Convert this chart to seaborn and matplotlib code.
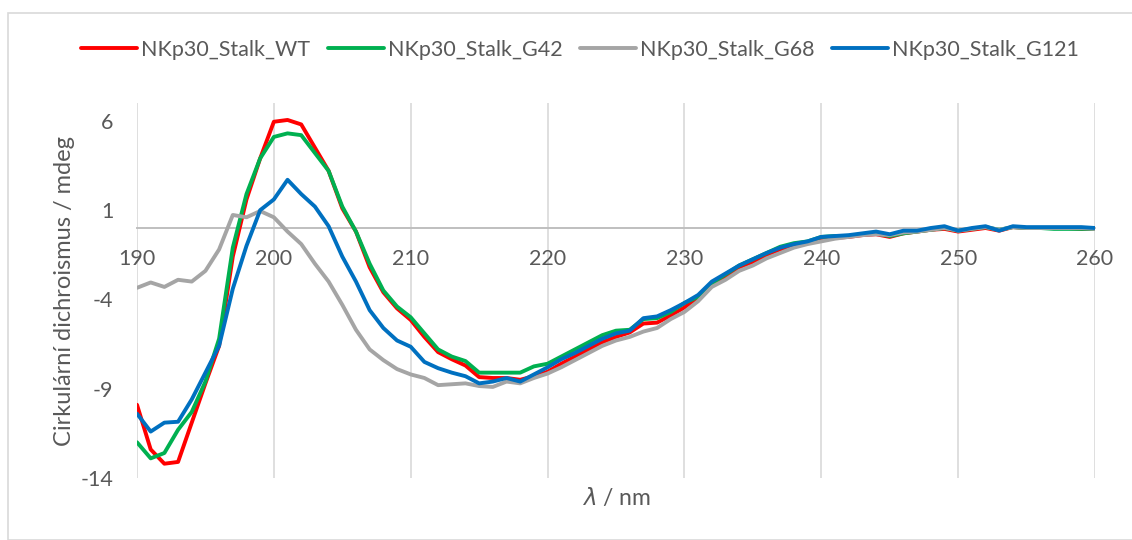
import matplotlib
matplotlib.use("Agg")
import matplotlib.pyplot as plt
import numpy as np
import pandas as pd
import seaborn as sns
from matplotlib.patches import Rectangle

# wavelength in nm, CD signal in mdeg
wavelength = list(range(190, 261))

wt = [-9.9, -12.4, -13.2, -13.1, -10.9, -8.7, -6.6, -1.6, 1.6, 3.9,
      5.95, 6.05, 5.8, 4.5, 3.2, 1.1, -0.2, -2.2, -3.6, -4.5,
      -5.15, -6.1, -6.95, -7.35, -7.7, -8.35, -8.4, -8.4, -8.5, -8.3,
      -8.05, -7.6, -7.2, -6.8, -6.4, -6.1, -5.85, -5.35, -5.3, -4.9,
      -4.45, -3.9, -3.1, -2.7, -2.2, -1.9, -1.5, -1.2, -0.95, -0.8,
      -0.6, -0.55, -0.5, -0.4, -0.35, -0.5, -0.3, -0.2, -0.1, -0.05,
      -0.2, -0.1, 0.0, -0.15, 0.05, 0.0, 0.0, 0.0, 0.0, -0.05, -0.05]

g42 = [-12.0, -12.9, -12.6, -11.3, -10.3, -8.6, -6.2, -1.1, 1.9, 3.9,
       5.1, 5.3, 5.2, 4.2, 3.2, 1.2, -0.2, -2.0, -3.5, -4.4,
       -5.0, -5.9, -6.8, -7.2, -7.45, -8.1, -8.1, -8.1, -8.1, -7.75,
       -7.6, -7.2, -6.8, -6.4, -6.0, -5.75, -5.7, -5.1, -5.05, -4.7,
       -4.2, -3.85, -3.1, -2.6, -2.1, -1.75, -1.4, -1.05, -0.85, -0.75,
       -0.5, -0.45, -0.45, -0.35, -0.3, -0.45, -0.3, -0.2, -0.1, 0.0,
       -0.15, -0.05, 0.05, -0.1, 0.05, 0.0, 0.0, -0.05, -0.05, -0.05, -0.05]

g68 = [-3.35, -3.05, -3.3, -2.9, -3.0, -2.4, -1.2, 0.73, 0.6, 0.95,
       0.6, -0.2, -0.9, -2.0, -3.0, -4.3, -5.7, -6.8, -7.4, -7.9,
       -8.2, -8.4, -8.8, -8.75, -8.7, -8.85, -8.9, -8.6, -8.7, -8.4,
       -8.15, -7.8, -7.4, -7.0, -6.6, -6.3, -6.1, -5.8, -5.6, -5.1,
       -4.7, -4.1, -3.3, -2.9, -2.4, -2.1, -1.7, -1.4, -1.1, -0.9,
       -0.75, -0.6, -0.5, -0.4, -0.35, -0.4, -0.25, -0.2, -0.1, 0.0,
       -0.15, -0.05, 0.05, -0.1, 0.05, 0.0, 0.0, 0.0, 0.0, 0.0, -0.05]

g121 = [-10.4, -11.4, -10.9, -10.85, -9.6, -8.1, -6.6, -3.4, -1.0, 1.0,
        1.6, 2.7, 1.9, 1.2, 0.1, -1.6, -3.0, -4.6, -5.6, -6.3,
        -6.65, -7.5, -7.85, -8.1, -8.3, -8.7, -8.6, -8.4, -8.6, -8.2,
        -7.8, -7.35, -7.0, -6.6, -6.2, -5.9, -5.75, -5.05, -4.95, -4.6,
        -4.2, -3.75, -3.0, -2.55, -2.1, -1.75, -1.4, -1.1, -0.9, -0.75,
        -0.5, -0.45, -0.4, -0.3, -0.2, -0.35, -0.15, -0.15, 0.0, 0.1,
        -0.15, 0.0, 0.1, -0.15, 0.1, 0.05, 0.05, 0.05, 0.05, 0.05, 0.0]

names = ["NKp30_Stalk_WT", "NKp30_Stalk_G42", "NKp30_Stalk_G68", "NKp30_Stalk_G121"]
colors = ["#FF0000", "#00B050", "#A5A5A5", "#0070C0"]

frames = []
for name, vals in zip(names, [wt, g42, g68, g121]):
    frames.append(pd.DataFrame({"nm": wavelength, "cd": vals, "sample": name}))
df = pd.concat(frames, ignore_index=True)

sns.set_style("white")
plt.rcParams["font.family"] = ["Lato", "DejaVu Sans"]
plt.rcParams["axes.unicode_minus"] = False
plt.rcParams["lines.solid_joinstyle"] = "round"
plt.rcParams["lines.solid_capstyle"] = "round"
txt = "#595959"

fig = plt.figure(figsize=(11.32, 5.4), dpi=100)
ax = fig.add_axes([137 / 1132, 1 - 478 / 540, (1095 - 137) / 1132, (478 - 103) / 540])

sns.lineplot(data=df, x="nm", y="cd", hue="sample", hue_order=names,
             palette=colors, linewidth=2.8, ax=ax, legend=False, zorder=3)

ax.set_xlim(190, 260)
ax.set_ylim(-14, 7)
ax.set_xticks(range(190, 261, 10))
ax.set_yticks([-14, -9, -4, 1, 6])
ax.grid(axis="x", color="#D9D9D9", linewidth=1.2)
ax.grid(axis="y", visible=False)
ax.set_axisbelow(True)

for s in ["left", "right", "top"]:
    ax.spines[s].set_visible(False)
ax.spines["bottom"].set_position(("data", 0))
ax.spines["bottom"].set_color("#BFBFBF")
ax.spines["bottom"].set_linewidth(1.4)
ax.spines["bottom"].set_zorder(1)

ax.tick_params(axis="x", length=0, pad=15, labelsize=15.5, labelcolor=txt)
ax.tick_params(axis="y", length=0, pad=17, labelsize=15.5, labelcolor=txt)

ax.set_xlabel("")
ax.set_ylabel("Cirkulární dichroismus / mdeg", fontsize=17, color=txt, labelpad=4)
fig.text(616 / 1132, 1 - 498 / 540, r"$\lambda$ / nm", ha="center", va="center",
         fontsize=16.5, color=txt)

handles = [plt.Line2D([], [], color=c, linewidth=2.8) for c in colors]
fig.legend(handles, names, loc="center", bbox_to_anchor=(580 / 1132, 1 - 50 / 540),
           ncol=4, frameon=False, fontsize=15.5, handlelength=2.6, handletextpad=0.2,
           columnspacing=0.8, labelcolor=txt)

fig.patches.append(Rectangle((8 / 1132, 0), 1.0, 1 - 13 / 540, transform=fig.transFigure,
                             fill=False, edgecolor="#D9D9D9", linewidth=1.2))

fig.savefig("out.png", dpi=100)
